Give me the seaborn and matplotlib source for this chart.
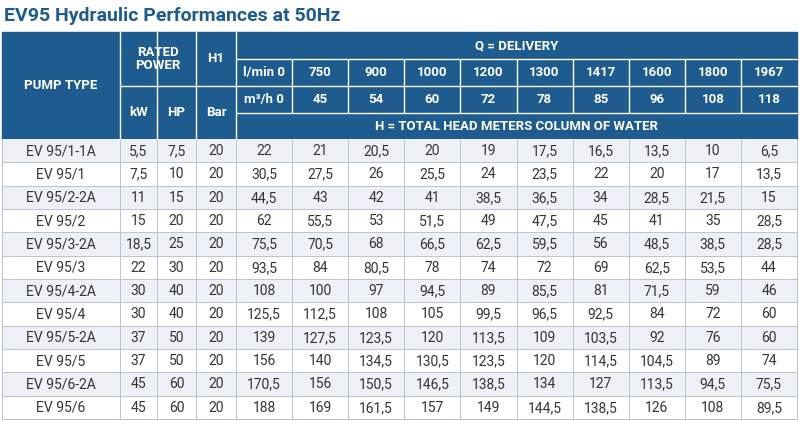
import matplotlib
matplotlib.use("Agg")
import matplotlib.pyplot as plt
from matplotlib.patches import Rectangle
import seaborn as sns

sns.set_style("white")

pump_types = ["EV 95/1-1A", "EV 95/1", "EV 95/2-2A", "EV 95/2", "EV 95/3-2A", "EV 95/3",
              "EV 95/4-2A", "EV 95/4", "EV 95/5-2A", "EV 95/5", "EV 95/6-2A", "EV 95/6"]
kw = ["5,5", "7,5", "11", "15", "18,5", "22", "30", "30", "37", "37", "45", "45"]
hp = ["7,5", "10", "15", "20", "25", "30", "40", "40", "50", "50", "60", "60"]
h1 = ["20"] * 12
flow_lmin = ["l/min 0", "750", "900", "1000", "1200", "1300", "1417", "1600", "1800", "1967"]
flow_m3h = ["m³/h 0", "45", "54", "60", "72", "78", "85", "96", "108", "118"]
head = [
    ["22", "21", "20,5", "20", "19", "17,5", "16,5", "13,5", "10", "6,5"],
    ["30,5", "27,5", "26", "25,5", "24", "23,5", "22", "20", "17", "13,5"],
    ["44,5", "43", "42", "41", "38,5", "36,5", "34", "28,5", "21,5", "15"],
    ["62", "55,5", "53", "51,5", "49", "47,5", "45", "41", "35", "28,5"],
    ["75,5", "70,5", "68", "66,5", "62,5", "59,5", "56", "48,5", "38,5", "28,5"],
    ["93,5", "84", "80,5", "78", "74", "72", "69", "62,5", "53,5", "44"],
    ["108", "100", "97", "94,5", "89", "85,5", "81", "71,5", "59", "46"],
    ["125,5", "112,5", "108", "105", "99,5", "96,5", "92,5", "84", "72", "60"],
    ["139", "127,5", "123,5", "120", "113,5", "109", "103,5", "92", "76", "60"],
    ["156", "140", "134,5", "130,5", "123,5", "120", "114,5", "104,5", "89", "74"],
    ["170,5", "156", "150,5", "146,5", "138,5", "134", "127", "113,5", "94,5", "75,5"],
    ["188", "169", "161,5", "157", "149", "144,5", "138,5", "126", "108", "89,5"],
]

W, H = 799, 421
fig = plt.figure(figsize=(W / 100, H / 100), dpi=100)
ax = fig.add_axes([0, 0, 1, 1])
ax.set_xlim(0, W)
ax.set_ylim(H, 0)
ax.axis("off")

blue = "#1e5b8e"
hdr_font = dict(family="Roboto", weight="bold", color="white", fontsize=9.5, ha="center", va="center")
body_font = dict(family="Roboto", color="#333333", fontsize=10, ha="center", va="center")

col_x = [2, 120, 157, 196, 236]
fw = (797 - 236) / 10
col_x += [236 + fw * (i + 1) for i in range(10)]
top = 32
y_q, y_l, y_m, y_h = 32, 59, 86, 113
hdr_bot = 139
row_h = (419 - hdr_bot) / 12

ax.text(4, 16, "EV95 Hydraulic Performances at 50Hz", family="Roboto", weight="bold",
        color="#1e5b8e", fontsize=14, ha="left", va="center", fontstretch="condensed")

ax.add_patch(Rectangle((col_x[0], top), col_x[-1] - col_x[0], hdr_bot - top, color=blue, zorder=1))

def vline(x, y0, y1):
    ax.plot([x, x], [y0, y1], color="white", lw=1, zorder=2)

def hline(x0, x1, y):
    ax.plot([x0, x1], [y, y], color="white", lw=1, zorder=2)

for x in col_x[1:4]:
    vline(x, top, hdr_bot)
vline(col_x[4], top, hdr_bot)
for x in col_x[5:-1]:
    vline(x, y_l, y_h)
hline(col_x[1], col_x[4], y_m)
hline(col_x[4], col_x[-1], y_l)
hline(col_x[4], col_x[-1], y_m)
hline(col_x[4], col_x[-1], y_h)

ax.text((col_x[0] + col_x[1]) / 2, (top + hdr_bot) / 2, "PUMP TYPE", **hdr_font)
ax.text((col_x[1] + col_x[3]) / 2, (top + y_m) / 2, "RATED\nPOWER", linespacing=0.95, **hdr_font)
ax.text((col_x[1] + col_x[2]) / 2, (y_m + hdr_bot) / 2, "kW", **hdr_font)
ax.text((col_x[2] + col_x[3]) / 2, (y_m + hdr_bot) / 2, "HP", **hdr_font)
ax.text((col_x[3] + col_x[4]) / 2, (top + y_m) / 2, "H1", **hdr_font)
ax.text((col_x[3] + col_x[4]) / 2, (y_m + hdr_bot) / 2, "Bar", **hdr_font)
ax.text((col_x[4] + col_x[-1]) / 2, (y_q + y_l) / 2, "Q = DELIVERY", **hdr_font)
ax.text((col_x[4] + col_x[-1]) / 2, (y_h + hdr_bot) / 2, "H = TOTAL HEAD METERS COLUMN OF WATER", **hdr_font)
for i in range(10):
    cx = (col_x[4 + i] + col_x[5 + i]) / 2
    ax.text(cx, (y_l + y_m) / 2, flow_lmin[i], **hdr_font)
    ax.text(cx, (y_m + y_h) / 2, flow_m3h[i], **hdr_font)

for r in range(12):
    y0 = hdr_bot + r * row_h
    bg = "#edf0f4" if r % 2 == 0 else "white"
    ax.add_patch(Rectangle((col_x[0], y0), col_x[-1] - col_x[0], row_h, facecolor=bg,
                           edgecolor="none", zorder=1))
    ax.plot([col_x[0], col_x[-1]], [y0 + row_h, y0 + row_h], color="#b8c4d2", lw=0.7, zorder=2)
    vals = [pump_types[r], kw[r], hp[r], h1[r]] + head[r]
    for c, v in enumerate(vals):
        ax.text((col_x[c] + col_x[c + 1]) / 2, y0 + row_h / 2 + 0.5, v, **body_font)
for x in col_x:
    ax.plot([x, x], [hdr_bot, hdr_bot + 12 * row_h], color="#b8c4d2", lw=0.7, zorder=2)

fig.savefig("out.png", dpi=100, facecolor="white")
